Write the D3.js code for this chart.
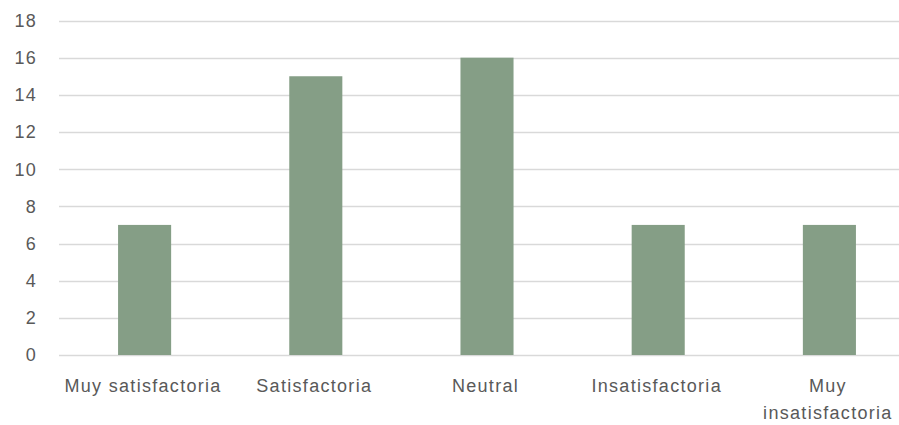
<!DOCTYPE html>
<html>
<head>
<meta charset="utf-8">
<script src="https://cdn.jsdelivr.net/npm/d3@7"></script>
<style>
  html, body { margin: 0; padding: 0; background: #ffffff; }
  svg text { font-family: "Liberation Sans", Arial, sans-serif; fill: #595959; }
</style>
</head>
<body>
<svg id="chart" width="899" height="425"></svg>
<script>
// Survey responses per satisfaction level
const categories = ["Muy satisfactoria", "Satisfactoria", "Neutral", "Insatisfactoria", "Muy insatisfactoria"];
const categoryLines = [["Muy satisfactoria"], ["Satisfactoria"], ["Neutral"], ["Insatisfactoria"], ["Muy", "insatisfactoria"]];
const counts = [7, 15, 16, 7, 7];
const yTicks = [0, 2, 4, 6, 8, 10, 12, 14, 16, 18];

const svg = d3.select("#chart");
const W = 899;

const x = d3.scaleBand()
  .domain(categories)
  .range([59, 915])
  .paddingInner(0.69)
  .paddingOuter(0.345);

const y = d3.scaleLinear()
  .domain([0, 18])
  .range([355, 20.5]);

// Horizontal gridlines
svg.append("g")
  .selectAll("line")
  .data(yTicks)
  .join("line")
  .attr("x1", 59)
  .attr("x2", W)
  .attr("y1", d => Math.round(y(d)) + 0.5)
  .attr("y2", d => Math.round(y(d)) + 0.5)
  .attr("stroke", "#d9d9d9")
  .attr("stroke-width", 1.3);

// Y tick labels
svg.append("g")
  .selectAll("text")
  .data(yTicks)
  .join("text")
  .attr("x", 37)
  .attr("y", d => y(d))
  .attr("dy", "0.36em")
  .attr("text-anchor", "end")
  .style("font-size", "18px")
  .style("letter-spacing", "1.3px")
  .text(d => d);

// Bars
svg.append("g")
  .selectAll("rect")
  .data(categories)
  .join("rect")
  .attr("x", d => x(d))
  .attr("width", x.bandwidth())
  .attr("y", (d, i) => y(counts[i]))
  .attr("height", (d, i) => y(0) - y(counts[i]))
  .attr("fill", "#859e86");

// Category labels
const labels = svg.append("g")
  .selectAll("text")
  .data(categories)
  .join("text")
  .attr("x", d => x(d) + x.bandwidth() / 2 - 1.5)
  .attr("y", 391.5)
  .attr("text-anchor", "middle")
  .style("font-size", "18px")
  .style("letter-spacing", "1.3px");

labels.selectAll("tspan")
  .data((d, i) => categoryLines[i])
  .join("tspan")
  .attr("x", function () { return this.parentNode.getAttribute("x"); })
  .attr("dy", (d, i) => i === 0 ? 0 : 27)
  .text(d => d);
</script>
</body>
</html>
